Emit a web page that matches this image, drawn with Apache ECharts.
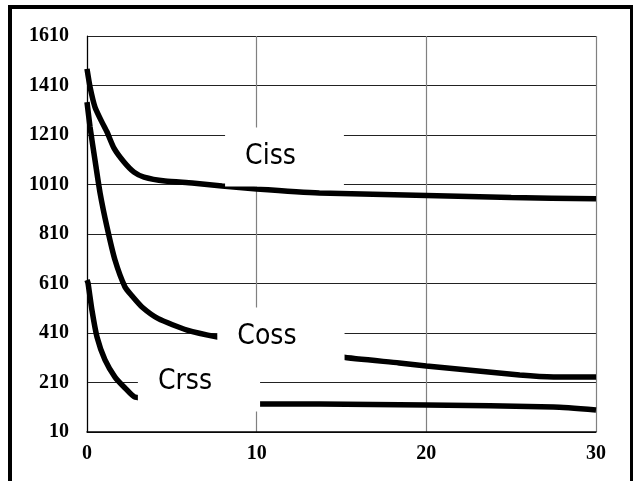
<!DOCTYPE html>
<html>
<head>
<meta charset="utf-8">
<script src="https://cdn.jsdelivr.net/npm/echarts@6/dist/echarts.min.js"></script>
<style>
html,body{margin:0;padding:0;background:#fff;}
#chart{width:634px;height:481px;}
</style>
</head>
<body>
<div id="chart"></div>
<script>
// Data (x = voltage, y = capacitance)
const cissX = [0, 0.18, 0.47, 0.88, 1.18, 1.59, 2.18, 2.77, 3.36, 4.6, 6.2, 7.96, 10, 13.7, 20, 25, 30];
const cissY = [1477, 1404, 1323, 1262, 1222, 1157, 1101, 1060, 1040, 1024, 1016, 1004, 992, 976, 966, 957, 952];
const cossX = [0, 0.18, 0.47, 0.77, 1.18, 1.65, 2.24, 2.65, 3.24, 4.2, 5.9, 7.7, 10, 15, 18.4, 20, 25.5, 27.5, 30];
const cossY = [1343, 1242, 1109, 976, 838, 705, 596, 560, 515, 468, 422, 394, 368, 313, 289, 277, 240, 232, 232];
const crssX = [0, 0.06, 0.29, 0.59, 1.06, 1.65, 2.24, 2.83, 5, 7.5, 10.2, 13.7, 20, 27.5, 30];
const crssY = [624, 612, 503, 394, 301, 232, 188, 151, 138, 128, 123, 123, 119, 111, 99];
const seriesNames = ['Ciss', 'Coss', 'Crss'];
// label anchor points (data units)
const labelAnchorX = [11.64, 11.43, 6.6];
const labelAnchorY = [1121, 394, 212];
const yTicks = [10, 210, 410, 610, 810, 1010, 1210, 1410, 1610];
const xTicks = [0, 10, 20, 30];

const zip = (xs, ys) => xs.map((x, i) => [x, ys[i]]);

const chart = echarts.init(document.getElementById('chart'), null, {renderer: 'canvas'});
const lineStyle = {color: '#000', width: 5.5, opacity: 1};
const mkLine = (name, xs, ys) => ({
  type: 'line', name: name, data: zip(xs, ys), smooth: 0.2,
  showSymbol: false, lineStyle: lineStyle, z: 2, silent: true
});
const option = {
  backgroundColor: '#fff',
  animation: false,
  grid: {left: 87, right: 38, top: 36, bottom: 49, containLabel: false},
  xAxis: {
    type: 'value', min: xTicks[0], max: xTicks[xTicks.length - 1], interval: 10,
    axisLine: {show: true, onZero: false, lineStyle: {color: '#000', width: 1.5}},
    axisTick: {show: false},
    splitLine: {show: true, lineStyle: {color: '#808080', width: 1.2}},
    axisLabel: {margin: 12, color: '#000', fontFamily: 'Liberation Serif', fontWeight: 'bold', fontSize: 20,
      formatter: v => String(v)}
  },
  yAxis: {
    type: 'value', min: yTicks[0], max: yTicks[yTicks.length - 1], interval: 200,
    axisLine: {show: true, onZero: false, lineStyle: {color: '#000', width: 1.2}},
    axisTick: {show: false},
    splitLine: {show: true, lineStyle: {color: '#222', width: 1.2}},
    axisLabel: {margin: 18, color: '#000', fontFamily: 'Liberation Serif', fontWeight: 'bold', fontSize: 20,
      formatter: v => String(v)}
  },
  graphic: [
    {type: 'rect', shape: {x: 8, y: 5, width: 4, height: 476}, style: {fill: '#000'}, z: 100},
    {type: 'rect', shape: {x: 8, y: 5, width: 625, height: 4}, style: {fill: '#000'}, z: 100},
    {type: 'rect', shape: {x: 630, y: 5, width: 3, height: 476}, style: {fill: '#000'}, z: 100}
  ],
  series: [
    mkLine(seriesNames[0], cissX, cissY),
    mkLine(seriesNames[1], cossX, cossY),
    mkLine(seriesNames[2], crssX, crssY),
    {
      type: 'scatter', symbolSize: 0, z: 10, silent: true,
      itemStyle: {opacity: 1},
      data: seriesNames.map((n, i) => ({name: n, value: [labelAnchorX[i], labelAnchorY[i]]})),
      label: {
        show: true, position: 'inside', formatter: p => p.name, opacity: 1,
        color: '#000', fontFamily: 'DejaVu Sans Condensed, DejaVu Sans', fontSize: 28, lineHeight: 28,
        backgroundColor: '#fff', padding: [16, 48, 15, 20]
      }
    }
  ]
};
chart.setOption(option);
</script>
</body>
</html>
